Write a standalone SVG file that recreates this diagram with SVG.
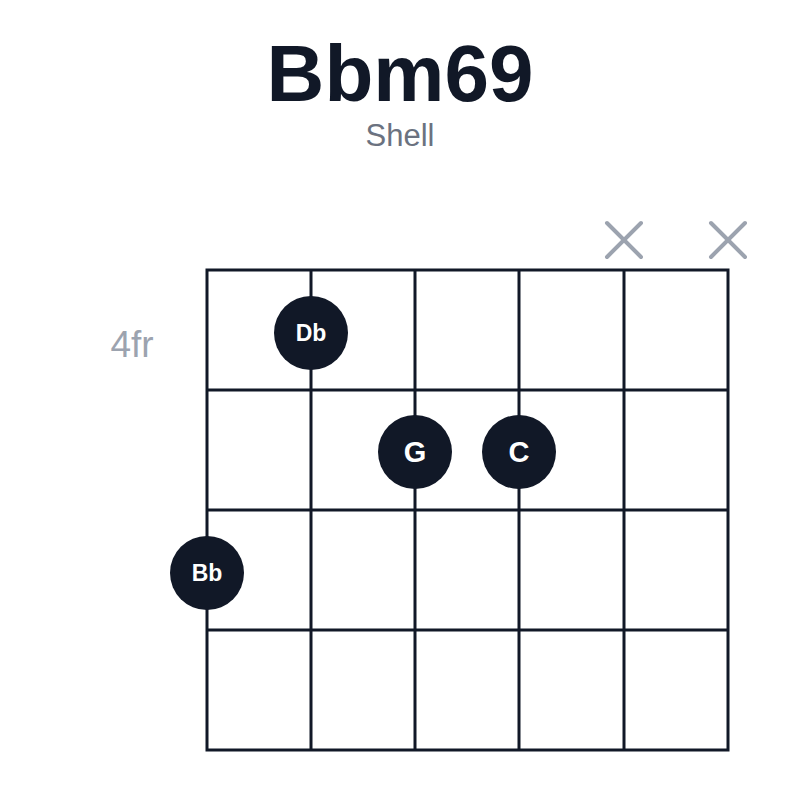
<svg xmlns="http://www.w3.org/2000/svg" width="800" height="800" viewBox="0 0 800 800">
<style>
.t{font-family:"Liberation Sans",Arial,sans-serif;text-anchor:middle}
.g{stroke:#111827;stroke-width:3;fill:none}
.x{stroke:#9ca3af;stroke-width:4;stroke-linecap:round}
.d{fill:#111827}
.l{fill:#fff;font-size:23px;font-weight:600}
.b{font-size:29px}
</style>
<rect width="800" height="800" fill="#fff"/>
<text class="t" x="400" y="101" font-size="80" font-weight="bold" fill="#111827">Bbm69</text>
<text class="t" x="400" y="146" font-size="31" fill="#6b7280">Shell</text>
<text class="t" x="132" y="357" font-size="37" fill="#9ca3af">4fr</text>
<g id="grid" class="g">
<rect x="207" y="270" width="521" height="480"/>
<path d="M311 270V750M415 270V750M519 270V750M624 270V750M207 390H728M207 510H728M207 630H728"/>
</g>
<g id="mutes" class="x">
<path d="M607 223L641 257M641 223L607 257"/>
<path d="M711 223L745 257M745 223L711 257"/>
</g>
<g id="Db"><circle class="d" cx="311" cy="333" r="37"/><text class="t l" x="311" y="341">Db</text></g>
<g id="G"><circle class="d" cx="415" cy="452" r="37"/><text class="t l b" x="415" y="462">G</text></g>
<g id="C"><circle class="d" cx="519" cy="452" r="37"/><text class="t l b" x="519" y="462">C</text></g>
<g id="Bb"><circle class="d" cx="207" cy="573" r="37"/><text class="t l" x="207" y="581">Bb</text></g>
</svg>
